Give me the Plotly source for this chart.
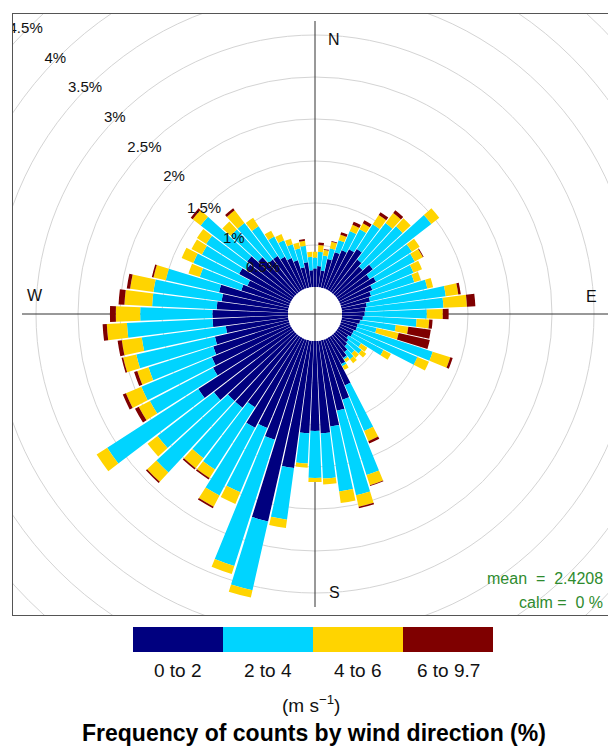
import plotly.graph_objects as go

# Wind direction bins (degrees, 5-degree sectors)
directions = list(range(0, 360, 5))

# Frequency (%) of counts in each wind-speed class per direction bin
ws_0_2 = [0.22, 0.25, 0.20, 0.35, 0.45, 0.50, 0.55, 0.60, 0.50, 0.45, 0.55, 0.45,
          0.50, 0.42, 0.38, 0.35, 0.30, 0.28, 0.27, 0.25, 0.22, 0.20, 0.20, 0.18,
          0.18, 0.15, 0.18, 0.20, 0.25, 0.30, 0.35, 0.60, 0.75, 0.86, 1.03, 1.10,
          1.07, 1.10, 1.53, 2.21, 1.25, 1.15, 1.21, 1.00, 1.09, 1.09, 1.20, 1.33,
          1.05, 1.01, 0.95, 0.90, 0.75, 0.90, 0.90, 0.85, 0.80, 0.85, 0.60, 0.55,
          0.70, 0.65, 0.70, 0.60, 0.50, 0.50, 0.45, 0.40, 0.35, 0.25, 0.30, 0.20]
ws_2_4 = [0.13, 0.17, 0.18, 0.13, 0.15, 0.25, 0.27, 0.35, 0.55, 0.65, 0.88, 0.60,
          0.52, 0.53, 0.54, 0.70, 0.95, 0.93, 0.74, 0.64, 0.43, 0.23, 0.95, 0.82,
          0.42, 0.18, 0.20, 0.12, 0.11, 0.02, 0.03, 0.59, 0.94, 1.03, 0.78, 0.54,
          0.56, 0.36, 0.62, 0.84, 1.58, 0.83, 0.91, 0.88, 0.76, 1.16, 0.85, 1.29,
          0.85, 0.91, 0.81, 0.96, 1.01, 1.02, 0.86, 0.77, 0.82, 0.65, 0.52, 0.70,
          0.50, 0.57, 0.70, 0.45, 0.55, 0.42, 0.27, 0.23, 0.20, 0.23, 0.20, 0.16]
ws_4_6 = [0.07, 0.08, 0.07, 0.08, 0.07, 0.08, 0.08, 0.13, 0.15, 0.13, 0.12, 0.11,
          0.11, 0.11, 0.08, 0.07, 0.15, 0.28, 0.19, 0.15, 0.15, 0.27, 0.22, 0.15,
          0.10, 0.09, 0.07, 0.07, 0.06, 0.04, 0.05, 0.13, 0.13, 0.14, 0.14, 0.07,
          0.05, 0.05, 0.10, 0.09, 0.10, 0.15, 0.15, 0.12, 0.15, 0.15, 0.15, 0.15,
          0.15, 0.20, 0.14, 0.16, 0.24, 0.24, 0.29, 0.33, 0.28, 0.15, 0.14, 0.15,
          0.14, 0.13, 0.12, 0.13, 0.19, 0.12, 0.08, 0.08, 0.07, 0.07, 0.06, 0.06]
ws_6_97 = [0.00, 0.03, 0.01, 0.01, 0.03, 0.04, 0.04, 0.04, 0.04, 0.00, 0.00, 0.00,
           0.01, 0.00, 0.00, 0.00, 0.03, 0.10, 0.07, 0.04, 0.27, 0.38, 0.03, 0.00,
           0.00, 0.00, 0.00, 0.00, 0.00, 0.00, 0.00, 0.03, 0.01, 0.02, 0.00, 0.00,
           0.00, 0.00, 0.00, 0.00, 0.00, 0.00, 0.02, 0.02, 0.02, 0.02, 0.00, 0.00,
           0.05, 0.04, 0.04, 0.02, 0.05, 0.05, 0.07, 0.07, 0.04, 0.02, 0.00, 0.00,
           0.00, 0.00, 0.03, 0.00, 0.03, 0.00, 0.00, 0.00, 0.00, 0.00, 0.02, 0.00]

class_labels = ["0 to 2", "2 to 4", "4 to 6", "6 to 9.7"]
class_colors = ["#00007F", "#00D4FF", "#FFD400", "#7F0000"]
grid_pcts = [0.5, 1.0, 1.5, 2.0, 2.5, 3.0, 3.5, 4.0, 4.5, 5.0]
mean_ws = 2.4208
calm_pct = 0

W, H = 608, 746
FONT = "Liberation Sans, Arial, sans-serif"

# panel geometry (pixels); cartesian units are pixels centred on the rose
CX, CY = 315, 314
PANEL_L, PANEL_T, PANEL_B = 13, 14, 615
HOLE = 27          # radius of calm circle
PX_PER_PCT = 84    # pixels per 1 % frequency
R_POLAR = 293      # outer radius of the polar subplot


def rpx(p):
    return HOLE + PX_PER_PCT * p


fig = go.Figure()

# stacked wind-rose bars
for vals, name, col in zip([ws_0_2, ws_2_4, ws_4_6, ws_6_97], class_labels, class_colors):
    fig.add_trace(go.Barpolar(
        r=vals, theta=directions, width=4.5, name=name,
        marker=dict(color=col, line=dict(width=0)),
        showlegend=False, hoverinfo="skip", subplot="polar"))

# outer percentage labels (clipped to the panel)
outer = [p for p in grid_pcts if 2.0 <= p <= 4.5]
fig.add_trace(go.Scatter(
    x=[-rpx(p) / 2 ** 0.5 - 3 for p in outer],
    y=[rpx(p) / 2 ** 0.5 - 1.5 for p in outer],
    text=[f"{p:g}%" for p in outer], mode="text",
    textfont=dict(family=FONT, size=15, color="#111"),
    cliponaxis=True, showlegend=False, hoverinfo="skip",
    xaxis="x", yaxis="y"))

shapes = []
for p in grid_pcts:
    r = rpx(p)
    shapes.append(dict(type="circle", xref="x", yref="y", x0=-r, x1=r, y0=-r, y1=r,
                       line=dict(color="#D4D4D4", width=1), layer="below"))
shapes.append(dict(type="line", xref="x", yref="y", x0=-R_POLAR, x1=R_POLAR, y0=0, y1=0,
                   line=dict(color="#333", width=1), layer="below"))
shapes.append(dict(type="line", xref="x", yref="y", x0=0, x1=0, y0=-R_POLAR, y1=R_POLAR,
                   line=dict(color="#333", width=1), layer="below"))

# colour key
key_x0, key_w, key_top, key_bot = 133, 90, 627, 652
for i, col in enumerate(class_colors):
    shapes.append(dict(type="rect", xref="paper", yref="paper",
                       x0=(key_x0 + i * key_w) / W, x1=(key_x0 + (i + 1) * key_w) / W,
                       y0=1 - key_bot / H, y1=1 - key_top / H,
                       fillcolor=col, line=dict(width=0), layer="above"))

ann = []
for p in [0.5, 1.0, 1.5]:
    ann.append(dict(x=-rpx(p) / 2 ** 0.5 - 3, y=rpx(p) / 2 ** 0.5 - 1.5, xref="x", yref="y",
                    text=f"{p:g}%", showarrow=False, xanchor="center", yanchor="middle",
                    font=dict(family=FONT, size=15, color="#111")))
for txt, x, y in [("N", 19, 275), ("S", 19, -278), ("W", -280, 19), ("E", 276, 18)]:
    ann.append(dict(x=x, y=y, xref="x", yref="y", text=txt, showarrow=False,
                    xanchor="center", yanchor="middle",
                    font=dict(family=FONT, size=16, color="#111")))
nb = "\u00a0"
ann.append(dict(x=605 / W, y=1 - 578 / H, xref="paper", yref="paper", xanchor="right",
                yanchor="middle", text=f"mean{nb}{nb}={nb}{nb}{mean_ws}", showarrow=False,
                font=dict(family=FONT, size=16, color="#2E8B2E")))
ann.append(dict(x=605 / W, y=1 - 602 / H, xref="paper", yref="paper", xanchor="right",
                yanchor="middle", text=f"calm{nb}={nb}{nb}{calm_pct}{nb}%", showarrow=False,
                font=dict(family=FONT, size=16, color="#2E8B2E")))
for i, lab in enumerate(class_labels):
    ann.append(dict(x=(key_x0 + (i + 0.5) * key_w) / W, y=1 - 670 / H, xref="paper", yref="paper",
                    xanchor="center", yanchor="middle",
                    text=lab, showarrow=False, font=dict(family=FONT, size=19, color="#111")))
ann.append(dict(x=311 / W, y=1 - 704 / H, xref="paper", yref="paper",
                xanchor="center", yanchor="middle",
                text="(m s<sup>\u22121</sup>)", showarrow=False,
                font=dict(family=FONT, size=19, color="#111")))
ann.append(dict(x=314 / W, y=1 - 733 / H, xref="paper", yref="paper",
                xanchor="center", yanchor="middle",
                text="<b>Frequency of counts by wind direction (%)</b>", showarrow=False,
                font=dict(family=FONT, size=23, color="#000")))

fig.update_layout(
    width=W, height=H, margin=dict(l=0, r=0, t=0, b=0),
    paper_bgcolor="white", plot_bgcolor="rgba(0,0,0,0)",
    xaxis=dict(domain=[PANEL_L / W, 1], range=[PANEL_L - CX, W - CX],
               showgrid=False, zeroline=False, showticklabels=False, ticks="",
               showline=True, mirror=True, linecolor="#555", linewidth=1, fixedrange=True),
    yaxis=dict(domain=[1 - PANEL_B / H, 1 - PANEL_T / H], range=[CY - PANEL_B, CY - PANEL_T],
               showgrid=False, zeroline=False, showticklabels=False, ticks="",
               showline=True, mirror=False, linecolor="#555", linewidth=1, fixedrange=True),
    polar=dict(
        domain=dict(x=[(CX - R_POLAR) / W, (CX + R_POLAR) / W],
                    y=[1 - (CY + R_POLAR) / H, 1 - (CY - R_POLAR) / H]),
        hole=HOLE / R_POLAR,
        bgcolor="rgba(0,0,0,0)",
        barmode="stack",
        radialaxis=dict(range=[0, (R_POLAR - HOLE) / PX_PER_PCT], visible=False, showgrid=False),
        angularaxis=dict(rotation=90, direction="clockwise", visible=False, showgrid=False),
    ),
    shapes=shapes, annotations=ann, showlegend=False,
)

fig.write_html("out.html")
